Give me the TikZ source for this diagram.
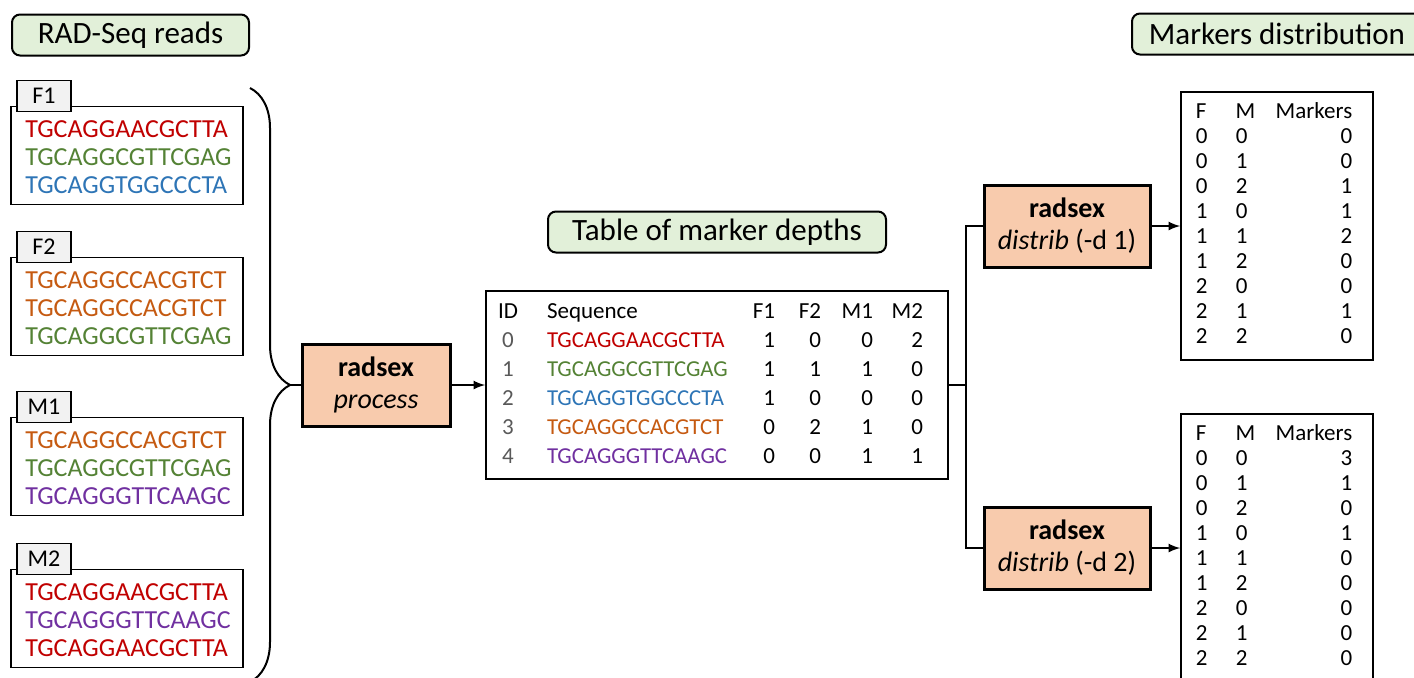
\documentclass[tikz,border=0pt]{standalone}
\usepackage{fontspec}
\setmainfont{Carlito}
\usepackage{array}
\usetikzlibrary{positioning,decorations.pathreplacing}

\definecolor{seqred}{HTML}{C00000}
\definecolor{seqgreen}{HTML}{548235}
\definecolor{seqblue}{HTML}{2E75B6}
\definecolor{seqorange}{HTML}{C55A11}
\definecolor{seqpurple}{HTML}{7030A0}
\definecolor{titlegreen}{HTML}{E2F0D9}
\definecolor{toolpeach}{HTML}{F8CBAD}
\definecolor{tabgray}{HTML}{F2F2F2}
\definecolor{idgray}{HTML}{595959}

\newcommand{\seqtext}[2]{{\fontsize{11.4}{14.5}\selectfont\textcolor{#1}{#2}}}

\begin{document}
\begin{tikzpicture}[x=0.5pt,y=-0.5pt]
  \tikzset{TitleStyle/.style = {draw, fill=titlegreen, rounded corners=4pt,
                                line width=1pt, minimum height=20.5pt, inner sep=0pt,
                                font=\fontsize{15.5}{18}\selectfont},
           ReadStyle/.style  = {draw, line width=0.8pt, minimum width=116pt,
                                minimum height=49pt, inner sep=0pt},
           TabStyle/.style   = {draw, fill=tabgray, line width=0.8pt, minimum width=27pt,
                                minimum height=15.5pt, inner sep=0pt,
                                font=\fontsize{12}{14}\selectfont},
           SeqStyle/.style   = {anchor=west, inner sep=0pt,
                                font=\fontsize{13}{15}\selectfont},
           ToolStyle/.style  = {draw, fill=toolpeach, line width=1.5pt, minimum height=41pt,
                                align=center, inner sep=0pt,
                                font=\fontsize{14}{16}\selectfont},
           TableStyle/.style = {draw, line width=0.8pt, inner sep=0pt},
           Link/.style       = {line width=1pt}}
  \useasboundingbox (0,0) rectangle (1414,677);
  \clip (0,0) rectangle (1414,677);

  %%% READS %%%
  \node[TitleStyle, minimum width=118.5pt](readstitle) at (130.5,35){RAD-Seq reads};
  \node[ReadStyle](f1) at (127,155.5){};
  \node[TabStyle](f1tab) at (44,96){F1};
  \node[SeqStyle, text=seqred](f1a) at (25,129){TGCAGGAACGCTTA};
  \node[SeqStyle, text=seqgreen](f1b) at (25,157){TGCAGGCGTTCGAG};
  \node[SeqStyle, text=seqblue](f1c) at (25,185){TGCAGGTGGCCCTA};
  \node[ReadStyle](f2) at (127,306.5){};
  \node[TabStyle](f2tab) at (44,247){F2};
  \node[SeqStyle, text=seqorange](f2a) at (25,280){TGCAGGCCACGTCT};
  \node[SeqStyle, text=seqorange](f2b) at (25,308){TGCAGGCCACGTCT};
  \node[SeqStyle, text=seqgreen](f2c) at (25,336){TGCAGGCGTTCGAG};
  \node[ReadStyle](m1) at (127,466.5){};
  \node[TabStyle](m1tab) at (44,407){M1};
  \node[SeqStyle, text=seqorange](m1a) at (25,440){TGCAGGCCACGTCT};
  \node[SeqStyle, text=seqgreen](m1b) at (25,468){TGCAGGCGTTCGAG};
  \node[SeqStyle, text=seqpurple](m1c) at (25,496){TGCAGGGTTCAAGC};
  \node[ReadStyle](m2) at (127,618.5){};
  \node[TabStyle](m2tab) at (44,559){M2};
  \node[SeqStyle, text=seqred](m2a) at (25,592){TGCAGGAACGCTTA};
  \node[SeqStyle, text=seqpurple](m2b) at (25,620){TGCAGGGTTCAAGC};
  \node[SeqStyle, text=seqred](m2c) at (25,648){TGCAGGAACGCTTA};

  %%% PROCESS %%%
  \coordinate (bracetop) at (250,88);
  \coordinate (bracebot) at (250,682);
  \coordinate (bracetip) at (290,385);
  \draw[Link, decorate, decoration={brace, amplitude=20pt}] (bracetop) -- (bracebot);
  \node[ToolStyle, minimum width=74pt](process) at (376,385){\textbf{radsex}\\\textit{process}};
  \draw[Link](bracetip) -- (process);

  %%% DEPTHS %%%
  \node[TitleStyle, minimum width=169pt](depthtitle) at (717,232){Table of marker depths};
  \node[TableStyle, minimum width=231pt, minimum height=94pt,
        font=\fontsize{11.5}{14.5}\selectfont](depths) at (717,385){%
    \begin{tabular}{@{}>{\centering\arraybackslash}p{10pt}@{\hspace{14.5pt}}p{88pt}%
                    @{}>{\raggedleft\arraybackslash}p{26pt}@{}>{\raggedleft\arraybackslash}p{23pt}%
                    @{}>{\raggedleft\arraybackslash}p{26pt}@{}>{\raggedleft\arraybackslash}p{25pt}%
                    @{\hspace{6.5pt}}}
      ID & Sequence & F1 & F2 & M1 & M2\\
      \textcolor{idgray}{0} & \seqtext{seqred}{TGCAGGAACGCTTA}    & 1 & 0 & 0 & 2\\
      \textcolor{idgray}{1} & \seqtext{seqgreen}{TGCAGGCGTTCGAG}  & 1 & 1 & 1 & 0\\
      \textcolor{idgray}{2} & \seqtext{seqblue}{TGCAGGTGGCCCTA}   & 1 & 0 & 0 & 0\\
      \textcolor{idgray}{3} & \seqtext{seqorange}{TGCAGGCCACGTCT} & 0 & 2 & 1 & 0\\
      \textcolor{idgray}{4} & \seqtext{seqpurple}{TGCAGGGTTCAAGC} & 0 & 0 & 1 & 1
    \end{tabular}};
  \draw[Link, -latex](process) -- (depths);

  %%% DISTRIB %%%
  \node[TitleStyle, minimum width=145pt](distribtitle) at (1277,34){Markers distribution};
  \coordinate (split) at (966,385);
  \node[ToolStyle, minimum width=83pt](distrib1) at (1067,226){\textbf{radsex}\\\textit{distrib} (-d 1)};
  \node[ToolStyle, minimum width=83pt](distrib2) at (1067,548){\textbf{radsex}\\\textit{distrib} (-d 2)};
  \draw[Link](depths) -- (split);
  \draw[Link](split) |- (distrib1);
  \draw[Link](split) |- (distrib2);
  \node[TableStyle, minimum width=96pt, minimum height=134pt,
        font=\fontsize{11.5}{12.5}\selectfont](counts1) at (1277,226){%
    \begin{tabular}{@{}p{20pt}@{}p{20pt}@{}r@{\hspace{3pt}}}
      F & M & Markers\\
      0 & 0 & 0\\ 0 & 1 & 0\\ 0 & 2 & 1\\
      1 & 0 & 1\\ 1 & 1 & 2\\ 1 & 2 & 0\\
      2 & 0 & 0\\ 2 & 1 & 1\\ 2 & 2 & 0
    \end{tabular}};
  \node[TableStyle, minimum width=96pt, minimum height=134pt,
        font=\fontsize{11.5}{12.5}\selectfont](counts2) at (1277,548){%
    \begin{tabular}{@{}p{20pt}@{}p{20pt}@{}r@{\hspace{3pt}}}
      F & M & Markers\\
      0 & 0 & 3\\ 0 & 1 & 1\\ 0 & 2 & 0\\
      1 & 0 & 1\\ 1 & 1 & 0\\ 1 & 2 & 0\\
      2 & 0 & 0\\ 2 & 1 & 0\\ 2 & 2 & 0
    \end{tabular}};
  \draw[Link, -latex](distrib1) -- (counts1);
  \draw[Link, -latex](distrib2) -- (counts2);
\end{tikzpicture}
\end{document}
